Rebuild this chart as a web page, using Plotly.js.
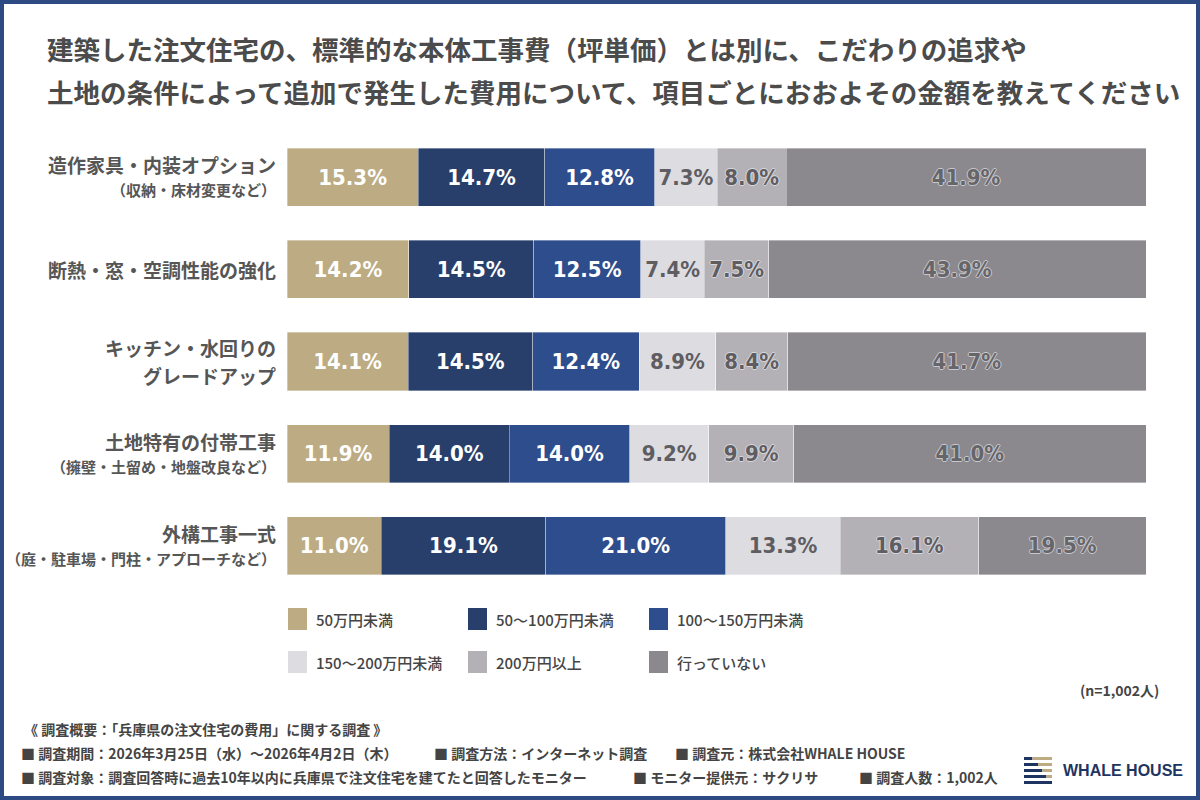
<!DOCTYPE html>
<html>
<head>
<meta charset="utf-8">
<script src="https://cdn.plot.ly/plotly-3.0.1.min.js"></script>
<style>
  html, body { margin: 0; padding: 0; background: #ffffff; }
  #chart { width: 1200px; height: 800px; }
</style>
</head>
<body>
<div id="chart"></div>
<script>
// Survey items (top to bottom) and their sub notes
const categories = [
  '造作家具・内装オプション',
  '断熱・窓・空調性能の強化',
  'キッチン・水回りの<br>グレードアップ',
  '土地特有の付帯工事',
  '外構工事一式'
];
const notes = [
  '（収納・床材変更など）',
  '',
  '',
  '（擁壁・土留め・地盤改良など）',
  '（庭・駐車場・門柱・アプローチなど）'
];

// Answer groups (share in %, one value per item)
const seriesNames = ['50万円未満', '50～100万円未満', '100～150万円未満', '150～200万円未満', '200万円以上', '行っていない'];
const under50    = [15.3, 14.2, 14.1, 11.9, 11.0];
const from50to100  = [14.7, 14.5, 14.5, 14.0, 19.1];
const from100to150 = [12.8, 12.5, 12.4, 14.0, 21.0];
const from150to200 = [7.3, 7.4, 8.9, 9.2, 13.3];
const over200    = [8.0, 7.5, 8.4, 9.9, 16.1];
const notDone    = [41.9, 43.9, 41.7, 41.0, 19.5];
const seriesValues = [under50, from50to100, from100to150, from150to200, over200, notDone];

const seriesColors = ['#bcab83', '#283f6b', '#2d4d8c', '#dddce1', '#b3b1b6', '#8b898e'];
const labelColors  = ['#ffffff', '#ffffff', '#ffffff', '#5e5d62', '#5e5d62', '#66656a'];
const labelShadows = ['none', 'none', 'none', 'none',
  '1px 0 0 #d8d7db, -1px 0 0 #d8d7db, 0 1px 0 #d8d7db, 0 -1px 0 #d8d7db',
  '1px 0 0 #c9c8cc, -1px 0 0 #c9c8cc, 0 1px 0 #c9c8cc, 0 -1px 0 #c9c8cc'];

const titleLines = [
  '建築した注文住宅の、標準的な本体工事費（坪単価）とは別に、こだわりの追求や',
  '土地の条件によって追加で発生した費用について、項目ごとにおおよその金額を教えてください'
];
const sampleNote = '(n=1,002人)';
const footerHead = '《 調査概要：「兵庫県の注文住宅の費用」に関する調査 》';
const footerRow1 = ['■ 調査期間：2026年3月25日（水）～2026年4月2日（木）', '■ 調査方法：インターネット調査', '■ 調査元：株式会社WHALE HOUSE'];
const footerRow2 = ['■ 調査対象：調査回答時に過去10年以内に兵庫県で注文住宅を建てたと回答したモニター', '■ モニター提供元：サクリサ', '■ 調査人数：1,002人'];
const brandName = 'WHALE HOUSE';

// Page geometry (pixels) and helpers to convert to paper coordinates
const W = 1200, H = 800;
const M = { l: 287, r: 54, t: 131, b: 208 };
const plotW = W - M.l - M.r, plotH = H - M.t - M.b;
const px = x => (x - M.l) / plotW;
const py = y => (H - M.b - y) / plotH;

const JP = '"Noto Sans CJK JP", "Noto Sans", sans-serif';
const NUM = '"DejaVu Sans Condensed", "Liberation Sans Narrow", "Roboto", sans-serif';

const traces = seriesValues.map((vals, k) => ({
  type: 'bar',
  orientation: 'h',
  name: seriesNames[k],
  y: categories,
  x: vals,
  text: vals.map(v => v.toFixed(1) + '%'),
  textposition: 'inside',
  insidetextanchor: 'middle',
  textangle: 0,
  constraintext: 'none',
  cliponaxis: false,
  textfont: { family: NUM, size: 22, color: labelColors[k], weight: 700, shadow: labelShadows[k] },
  marker: { color: seriesColors[k], line: { width: 0.6, color: 'rgba(255,255,255,0.6)' } },
  hoverinfo: 'skip',
  showlegend: false
}));

const annotations = [];
const shapes = [];

// Title
titleLines.forEach((t, i) => {
  annotations.push({
    xref: 'paper', yref: 'paper', x: px(45), y: py(i === 0 ? 48 : 92),
    xanchor: 'left', yanchor: 'middle', showarrow: false, text: t,
    font: { family: JP, size: 26.5, color: '#4b4b4b', weight: 700 }
  });
});

// Item labels to the left of each bar
categories.forEach((cat, i) => {
  const lines = cat.split('<br>').map(t => ({ text: t, size: 19, gap: 28 }));
  if (notes[i]) lines.push({ text: notes[i], size: 15, gap: 25 });
  const offsets = [0];
  for (let j = 1; j < lines.length; j++) offsets.push(offsets[j - 1] + lines[j].gap);
  const mid = offsets[offsets.length - 1] / 2;
  lines.forEach((ln, j) => {
    annotations.push({
      xref: 'paper', yref: 'y', x: px(278), y: cat, yshift: mid - offsets[j],
      xanchor: 'right', yanchor: 'middle', showarrow: false, text: ln.text,
      font: { family: JP, size: ln.size, color: '#565656', weight: 700 }
    });
  });
});

// Legend: three columns, two rows
const legendCols = [288, 468, 649];
const legendRows = [619, 662];
seriesNames.forEach((name, k) => {
  const cx = legendCols[k % 3], cy = legendRows[Math.floor(k / 3)];
  shapes.push({
    type: 'rect', xref: 'paper', yref: 'paper',
    x0: px(cx), x1: px(cx + 19), y0: py(cy + 11), y1: py(cy - 11),
    fillcolor: seriesColors[k], line: { width: 0 }
  });
  annotations.push({
    xref: 'paper', yref: 'paper', x: px(cx + 26), y: py(cy),
    xanchor: 'left', yanchor: 'middle', showarrow: false, text: name,
    font: { family: JP, size: 15, color: '#454545', weight: 500 }
  });
});

// Sample size
annotations.push({
  xref: 'paper', yref: 'paper', x: px(1161), y: py(690),
  xanchor: 'right', yanchor: 'middle', showarrow: false, text: sampleNote,
  font: { family: JP, size: 14, color: '#454545', weight: 700 }
});

// Survey outline footer
const footFont = { family: JP, size: 14, color: '#444444', weight: 700 };
annotations.push({
  xref: 'paper', yref: 'paper', x: px(22), y: py(729),
  xanchor: 'left', yanchor: 'middle', showarrow: false, text: footerHead, font: footFont
});
[[footerRow1, [19, 432, 673], 753], [footerRow2, [19, 631, 857], 777]].forEach(([row, xs, y]) => {
  row.forEach((t, j) => annotations.push({
    xref: 'paper', yref: 'paper', x: px(xs[j]), y: py(y),
    xanchor: 'left', yanchor: 'middle', showarrow: false, text: t, font: footFont
  }));
});

// Brand mark: striped icon plus name
const stripeNavy = [0.3, 0.5, 0.65, 0.8, 1.0];
stripeNavy.forEach((f, j) => {
  const y0 = 757 + j * 6, x0 = 1024, x1 = 1052, xs = x0 + (x1 - x0) * f;
  shapes.push({ type: 'rect', xref: 'paper', yref: 'paper', x0: px(x0), x1: px(xs), y0: py(y0 + 3), y1: py(y0), fillcolor: '#1f3561', line: { width: 0 } });
  if (f < 1) shapes.push({ type: 'rect', xref: 'paper', yref: 'paper', x0: px(xs), x1: px(x1), y0: py(y0 + 3), y1: py(y0), fillcolor: '#bcab83', line: { width: 0 } });
});
annotations.push({
  xref: 'paper', yref: 'paper', x: px(1061), y: py(770),
  xanchor: 'left', yanchor: 'middle', showarrow: false, text: brandName,
  font: { family: '"Liberation Sans", "DejaVu Sans", sans-serif', size: 16, color: '#1f3561', weight: 700 }
});

// Page frame
shapes.push({
  type: 'rect', xref: 'paper', yref: 'paper', layer: 'above',
  x0: px(2), x1: px(W - 2), y0: py(H - 2), y1: py(2),
  line: { width: 4, color: '#2d4b82' }, fillcolor: 'rgba(0,0,0,0)'
});

const layout = {
  width: W, height: H,
  margin: M,
  paper_bgcolor: '#ffffff', plot_bgcolor: '#ffffff',
  barmode: 'stack', bargap: 0.37,
  showlegend: false,
  xaxis: { range: [0, 100], visible: false, fixedrange: true },
  yaxis: {
    type: 'category', categoryorder: 'array', categoryarray: categories,
    range: [4.5, -0.5], showticklabels: false, showgrid: false, zeroline: false, fixedrange: true
  },
  annotations, shapes
};

Plotly.newPlot('chart', traces, layout, { displayModeBar: false, staticPlot: true });
</script>
</body>
</html>
